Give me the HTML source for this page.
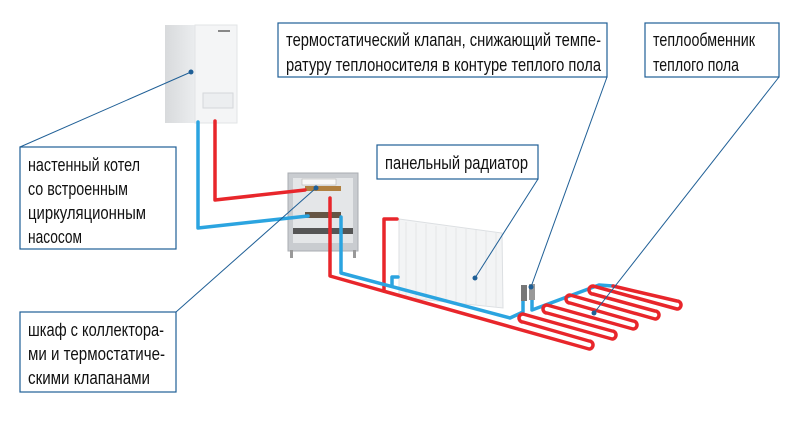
<!DOCTYPE html>
<html><head><meta charset="utf-8"><style>
html,body{margin:0;padding:0;background:#fff;width:800px;height:421px;overflow:hidden}
svg text{font-family:"Liberation Sans Narrow","Liberation Sans",sans-serif;font-size:18.5px;fill:#111}
</style></head><body>
<svg width="800" height="421" viewBox="0 0 800 421" xmlns="http://www.w3.org/2000/svg">
<defs>
<linearGradient id="bs" x1="0" x2="1"><stop offset="0" stop-color="#d8dadc"/><stop offset="1" stop-color="#eceef0"/></linearGradient>
</defs>
<!-- boiler -->
<rect x="165" y="25" width="32" height="98" fill="url(#bs)"/>
<rect x="195" y="25" width="42" height="98" fill="#f4f5f6" stroke="#e2e4e6"/>
<rect x="203" y="93" width="30" height="15" fill="#eceef0" stroke="#d5d7da"/>
<rect x="218" y="30" width="12" height="2" fill="#888"/>
<!-- cabinet -->
<rect x="288" y="173" width="70" height="78" fill="#c9ccd0" stroke="#a9adb2"/>
<rect x="293" y="178" width="60" height="65" fill="#e4e6e8"/>
<rect x="293" y="228" width="60" height="6" fill="#555"/>
<rect x="290" y="250" width="3" height="8" fill="#999"/><rect x="353" y="250" width="3" height="8" fill="#999"/>
<rect x="302" y="179" width="34" height="6" fill="#f8f8f8" stroke="#aaa" stroke-width=".5"/>
<rect x="305" y="186" width="36" height="5" fill="#b08040"/>
<rect x="305" y="212" width="36" height="6" fill="#665544"/>
<!-- radiator -->
<polygon points="399,219 502,233 503,308 399,297" fill="#f3f4f5" stroke="#dcdfe2"/>
<g stroke="#e4e6e8" stroke-width="1">
<line x1="406" y1="222" x2="406" y2="297"/><line x1="416" y1="223" x2="416" y2="298"/><line x1="426" y1="224" x2="426" y2="299"/><line x1="436" y1="226" x2="436" y2="300"/><line x1="446" y1="227" x2="446" y2="301"/><line x1="456" y1="228" x2="456" y2="302"/><line x1="466" y1="229" x2="466" y2="304"/><line x1="476" y1="230" x2="476" y2="305"/><line x1="486" y1="231" x2="486" y2="306"/><line x1="496" y1="232" x2="496" y2="307"/>
</g>
<!-- pipes -->
<g fill="none" stroke-width="3.5" stroke-linejoin="round" stroke-linecap="round">
<polyline stroke="#e8262b" points="215,121 215,200 305,190"/>
<polyline stroke="#2ba4e0" points="198,122 198,228 308,216"/>
<polyline stroke="#e8262b" points="384,291 384,219 397,219"/>
<polyline stroke="#2ba4e0" points="341,217 341,273 510,318 523,312 523,300"/>
<polyline stroke="#2ba4e0" points="392,285 392,277 398,277"/>
<polyline stroke="#2ba4e0" points="532,300 532,310 599,285 613,286"/>
<!-- red main + serpentine -->
<path stroke="#e8262b" d="M330,198 L330,276 L589,349 A4,4 0 0 0 589,341 L523,322 A4,4 0 0 1 523,314 L612,339 A4,4 0 0 0 612,331 L547,313 A4,4 0 0 1 547,305 L633,329 A4,4 0 0 0 633,321 L570,303 A4,4 0 0 1 570,295 L655,319 A4,4 0 0 0 655,311 L593,294 A4,4 0 0 1 593,286 L677,309 A4,4 0 0 0 677,301 L613,286"/>
</g>
<!-- valve -->
<rect x="521" y="285" width="6" height="16" fill="#777"/><rect x="529" y="284" width="6" height="16" fill="#999"/>
<!-- leader lines -->
<g stroke="#1f5f96" stroke-width="1" fill="none">
<line x1="191" y1="72" x2="20" y2="147"/>
<line x1="316" y1="188" x2="176" y2="312"/>
<line x1="475" y1="278" x2="538" y2="179"/>
<line x1="531" y1="287" x2="607" y2="77"/>
<line x1="594" y1="313" x2="779" y2="77"/>
</g>
<g fill="#1f5f96"><circle cx="191" cy="72" r="2.5"/><circle cx="316" cy="188" r="2.5"/><circle cx="475" cy="278" r="2.5"/><circle cx="531" cy="287" r="2.5"/><circle cx="594" cy="313" r="2.5"/></g>
<!-- boxes -->
<g fill="#fff" stroke="#1f5f96" stroke-width="1.2">
<rect x="278" y="23" width="329" height="54"/>
<rect x="645" y="23" width="134" height="54"/>
<rect x="377" y="145" width="161" height="34"/>
<rect x="20" y="147" width="156" height="102"/>
<rect x="20" y="312" width="156" height="80"/>
</g>
<text x="286" y="46" textLength="315" lengthAdjust="spacingAndGlyphs">термостатический клапан, снижающий темпе-</text>
<text x="286" y="71" textLength="315" lengthAdjust="spacingAndGlyphs">ратуру теплоносителя в контуре теплого пола</text>
<text x="653" y="46" textLength="102" lengthAdjust="spacingAndGlyphs">теплообменник</text>
<text x="653" y="71" textLength="86" lengthAdjust="spacingAndGlyphs">теплого пола</text>
<text x="385" y="169" textLength="143" lengthAdjust="spacingAndGlyphs">панельный радиатор</text>
<text x="28" y="171" textLength="112" lengthAdjust="spacingAndGlyphs">настенный котел</text>
<text x="28" y="195" textLength="100" lengthAdjust="spacingAndGlyphs">со встроенным</text>
<text x="28" y="219" textLength="118" lengthAdjust="spacingAndGlyphs">циркуляционным</text>
<text x="28" y="243" textLength="54" lengthAdjust="spacingAndGlyphs">насосом</text>
<text x="28" y="336" textLength="136" lengthAdjust="spacingAndGlyphs">шкаф с коллектора-</text>
<text x="28" y="360" textLength="137" lengthAdjust="spacingAndGlyphs">ми и термостатиче-</text>
<text x="28" y="384" textLength="122" lengthAdjust="spacingAndGlyphs">скими клапанами</text>
</svg>
</body></html>
